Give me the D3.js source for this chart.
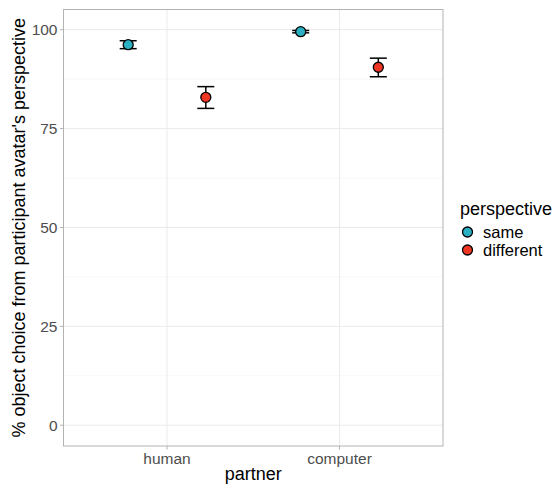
<!DOCTYPE html>
<html><head><meta charset="utf-8">
<script src="https://cdn.jsdelivr.net/npm/d3@7"></script>
<style>body{margin:0;background:#fff;} text{font-family:"Liberation Sans",Arial,sans-serif;}</style>
</head><body>
<script>
const partners = ["human", "computer"];
const perspectives = ["same", "different"];
const means = { human: [96.2, 82.9], computer: [99.5, 90.5] };
const lower = { human: [95.2, 80.1], computer: [99.2, 88.1] };
const upper = { human: [97.2, 85.6], computer: [99.8, 92.8] };
const yTicks = [0, 25, 50, 75, 100];
const colors = ["#2BAFC3", "#EF3524"];

const W = 554, H = 488;
const svg = d3.select("body").append("svg").attr("width", W).attr("height", H);
const x0 = 63.5, x1 = 443, y0 = 9.5, y1 = 446;

const y = d3.scaleLinear().domain([-5.25, 105.1]).range([y1, y0]);
const xc = d3.scaleLinear().domain([0.4, 2.6]).range([x0, x1]);
const dodge = 0.225;

const minor = [12.5, 37.5, 62.5, 87.5];
svg.append("g").selectAll("line").data(minor).join("line")
  .attr("x1", x0).attr("x2", x1).attr("y1", d => y(d)).attr("y2", d => y(d))
  .attr("stroke", "#F2F2F2").attr("stroke-width", 0.6);
svg.append("g").selectAll("line").data(yTicks).join("line")
  .attr("x1", x0).attr("x2", x1).attr("y1", d => y(d)).attr("y2", d => y(d))
  .attr("stroke", "#EAEAEA").attr("stroke-width", 1);
svg.append("g").selectAll("line").data(partners).join("line")
  .attr("x1", (d, i) => xc(i + 1)).attr("x2", (d, i) => xc(i + 1)).attr("y1", y0).attr("y2", y1)
  .attr("stroke", "#EAEAEA").attr("stroke-width", 1);

svg.append("rect").attr("x", x0).attr("y", y0).attr("width", x1 - x0).attr("height", y1 - y0)
  .attr("fill", "none").attr("stroke", "#B3B3B3").attr("stroke-width", 1);

const yg = svg.append("g");
yTicks.forEach(t => {
  yg.append("line").attr("x1", x0 - 3.5).attr("x2", x0).attr("y1", y(t)).attr("y2", y(t)).attr("stroke", "#B3B3B3");
  yg.append("text").attr("x", x0 - 6).attr("y", y(t)).attr("dy", "0.36em").attr("text-anchor", "end")
    .attr("font-size", 15.5).attr("fill", "#4D4D4D").text(t);
});
partners.forEach((p, i) => {
  svg.append("line").attr("x1", xc(i + 1)).attr("x2", xc(i + 1)).attr("y1", y1).attr("y2", y1 + 3.5).attr("stroke", "#B3B3B3");
  svg.append("text").attr("x", xc(i + 1)).attr("y", y1 + 17.5).attr("text-anchor", "middle")
    .attr("font-size", 15.5).attr("fill", "#4D4D4D").text(p);
});
svg.append("text").attr("x", (x0 + x1) / 2).attr("y", 480).attr("text-anchor", "middle")
  .attr("font-size", 18).attr("fill", "#000").text("partner");
svg.append("text").attr("transform", `translate(25,${(y0 + y1) / 2}) rotate(-90)`).attr("text-anchor", "middle")
  .attr("font-size", 18).attr("fill", "#000").text("% object choice from participant avatar's perspective");

const cap = 8.5;
partners.forEach((p, i) => {
  perspectives.forEach((s, j) => {
    const cx = xc(i + 1 + (j === 0 ? -dodge : dodge));
    const g = svg.append("g");
    g.append("line").attr("x1", cx).attr("x2", cx).attr("y1", y(lower[p][j])).attr("y2", y(upper[p][j]))
      .attr("stroke", "#000").attr("stroke-width", 1.5);
    [lower[p][j], upper[p][j]].forEach(v => {
      g.append("line").attr("x1", cx - cap).attr("x2", cx + cap).attr("y1", y(v)).attr("y2", y(v))
        .attr("stroke", "#000").attr("stroke-width", 1.5);
    });
    g.append("circle").attr("cx", cx).attr("cy", y(means[p][j])).attr("r", 5)
      .attr("fill", colors[j]).attr("stroke", "#000").attr("stroke-width", 1.3);
  });
});

svg.append("text").attr("x", 460).attr("y", 215).attr("font-size", 18).attr("fill", "#000").text("perspective");
perspectives.forEach((s, j) => {
  const ly = 232 + j * 18;
  svg.append("circle").attr("cx", 467.5).attr("cy", ly).attr("r", 5).attr("fill", colors[j])
    .attr("stroke", "#000").attr("stroke-width", 1.3);
  svg.append("text").attr("x", 483).attr("y", ly).attr("dy", "0.34em").attr("font-size", 16.5).attr("fill", "#000").text(s);
});
</script>
</body></html>
